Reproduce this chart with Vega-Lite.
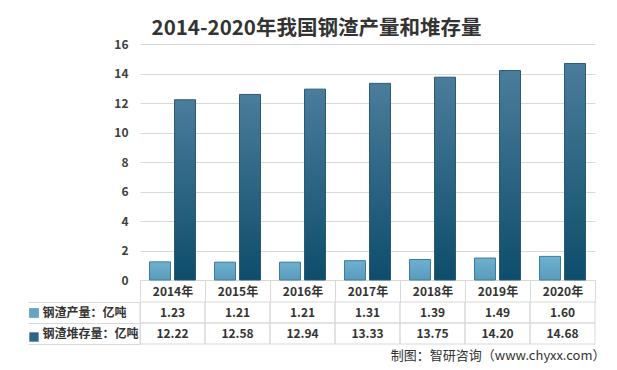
{
  "$schema": "https://vega.github.io/schema/vega-lite/v6.json",
  "padding": {"left": 27, "top": 18, "right": 13, "bottom": 5},
  "bounds": "flush",
  "spacing": 22,
  "title": {"text": "2014-2020年我国钢渣产量和堆存量", "fontSize": 20.5, "fontWeight": "bold", "color": "#333333", "anchor": "middle", "frame": "bounds", "offset": -1},
  "config": {"font": "Noto Sans CJK SC", "view": {"stroke": null}},
  "data": {"values": [
    {"year": "2014年", "series": "钢渣产量：亿吨", "value": 1.23},
    {"year": "2015年", "series": "钢渣产量：亿吨", "value": 1.21},
    {"year": "2016年", "series": "钢渣产量：亿吨", "value": 1.21},
    {"year": "2017年", "series": "钢渣产量：亿吨", "value": 1.31},
    {"year": "2018年", "series": "钢渣产量：亿吨", "value": 1.39},
    {"year": "2019年", "series": "钢渣产量：亿吨", "value": 1.49},
    {"year": "2020年", "series": "钢渣产量：亿吨", "value": 1.60},
    {"year": "2014年", "series": "钢渣堆存量：亿吨", "value": 12.22},
    {"year": "2015年", "series": "钢渣堆存量：亿吨", "value": 12.58},
    {"year": "2016年", "series": "钢渣堆存量：亿吨", "value": 12.94},
    {"year": "2017年", "series": "钢渣堆存量：亿吨", "value": 13.33},
    {"year": "2018年", "series": "钢渣堆存量：亿吨", "value": 13.75},
    {"year": "2019年", "series": "钢渣堆存量：亿吨", "value": 14.20},
    {"year": "2020年", "series": "钢渣堆存量：亿吨", "value": 14.68}
  ]},
  "vconcat": [
    {
      "width": 455,
      "height": 236,
      "encoding": {
        "x": {"field": "year", "type": "nominal", "sort": null, "scale": {"paddingInner": 0, "paddingOuter": 0},
          "axis": {"title": null, "orient": "bottom", "tickBand": "extent", "tickSize": 22, "tickColor": "#d9d9d9", "domainColor": "#d9d9d9", "labelAngle": 0, "labelBaseline": "middle", "labelPadding": -11, "labelFontSize": 12, "labelFontWeight": "bold", "labelColor": "#333333"}},
        "xOffset": {"field": "series", "type": "nominal", "scale": {"domain": ["钢渣产量：亿吨", "钢渣堆存量：亿吨"], "paddingInner": 0.16, "paddingOuter": 0.38}},
        "y": {"field": "value", "type": "quantitative", "scale": {"domain": [0, 16], "nice": false},
          "axis": {"title": null, "values": [0, 2, 4, 6, 8, 10, 12, 14, 16], "domain": false, "ticks": false, "labelPadding": 12, "gridColor": "#d9d9d9", "labelFontSize": 12, "labelFontWeight": "bold", "labelColor": "#404040"}}
      },
      "layer": [
        {
          "transform": [{"filter": "datum.series === '钢渣产量：亿吨'"}],
          "mark": {"type": "bar", "stroke": "#3d7c9c", "strokeWidth": 1,
            "fill": {"gradient": "linear", "x1": 0, "y1": 0, "x2": 0, "y2": 1, "stops": [{"offset": 0, "color": "#6db0cf"}, {"offset": 1, "color": "#5a9bbb"}]}}
        },
        {
          "transform": [{"filter": "datum.series === '钢渣堆存量：亿吨'"}],
          "mark": {"type": "bar", "stroke": "#2a5a74", "strokeWidth": 1,
            "fill": {"gradient": "linear", "x1": 0, "y1": 0, "x2": 0, "y2": 1, "stops": [{"offset": 0, "color": "#4b7c9b"}, {"offset": 1, "color": "#0d4d6b"}]}}
        }
      ]
    },
    {
      "width": 455,
      "height": 42,
      "title": {"text": "制图：智研咨询（www.chyxx.com）", "orient": "bottom", "anchor": "end", "fontSize": 13, "fontWeight": "normal", "color": "#333333", "offset": 5, "dx": 10},
      "encoding": {
        "x": {"field": "year", "type": "nominal", "sort": null, "scale": {"paddingInner": 0, "paddingOuter": 0}, "axis": null},
        "y": {"field": "series", "type": "nominal", "scale": {"domain": ["钢渣产量：亿吨", "钢渣堆存量：亿吨"], "paddingInner": 0, "paddingOuter": 0},
          "axis": {"title": null, "tickBand": "extent", "tickSize": 112, "tickColor": "#d9d9d9", "domainColor": "#d9d9d9", "labelAlign": "left", "labelBaseline": "middle", "labelPadding": -14, "labelFontSize": 12, "labelFontWeight": "bold", "labelColor": "#333333"}}
      },
      "layer": [
        {"mark": {"type": "rect", "fill": "transparent", "stroke": "#d9d9d9", "strokeWidth": 1}},
        {"mark": {"type": "text", "fontSize": 12, "fontWeight": "bold", "color": "#333333"},
          "encoding": {"text": {"field": "value", "type": "quantitative", "format": ".2f"}}},
        {"mark": {"type": "square", "opacity": 0},
          "encoding": {"color": {"field": "series", "type": "nominal",
            "scale": {"domain": ["钢渣产量：亿吨", "钢渣堆存量：亿吨"], "range": ["#62a5c5", "#2f6685"]},
            "legend": {"orient": "none", "legendX": -111, "legendY": 264, "padding": 0, "title": null, "labelExpr": "''", "labelFontSize": 9, "symbolType": "square", "symbolSize": 81, "symbolOpacity": 1, "symbolStrokeColor": "#4a7f9c", "symbolStrokeWidth": 0.5, "rowPadding": 12}}}}
      ]
    }
  ]
}
